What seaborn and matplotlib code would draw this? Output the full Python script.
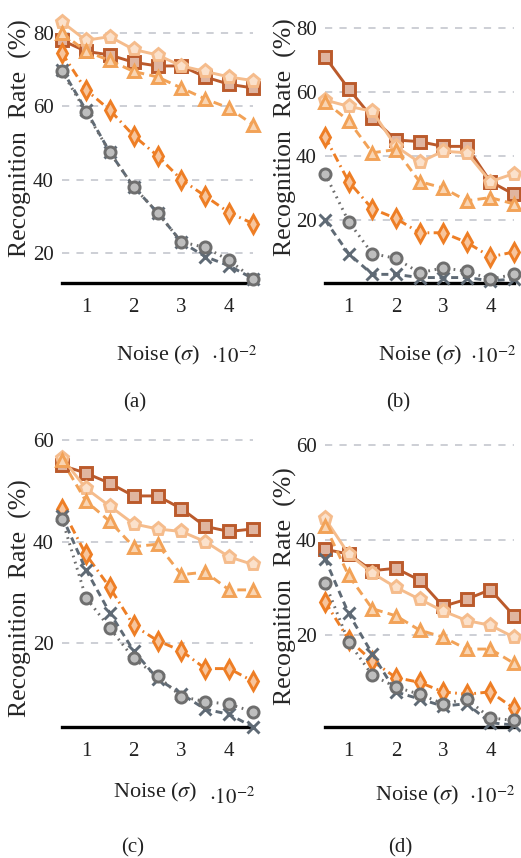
import numpy as np
import pandas as pd
import seaborn as sns
import matplotlib.pyplot as plt
from matplotlib.colors import to_rgb

# --- DATA ---
noise = [0.5, 1.0, 1.5, 2.0, 2.5, 3.0, 3.5, 4.0, 4.5]

a_square = [78, 75, 74, 72, 71, 71, 68, 66, 65]
a_pent = [83, 78, 79, 75.5, 74, 71, 69.5, 68, 67]
a_tri = [80, 75, 72.5, 69.5, 68, 65, 62, 59.5, 55]
a_diam = [74.5, 64.5, 59, 52, 46.5, 40, 35.5, 31, 28]
a_circ = [69.5, 58.5, 47.5, 38, 31, 23, 21.5, 18, 13]
a_cross = [70, 59, 47.5, 38, 31, 23, 19, 16.5, 13]

b_square = [71, 61, 52, 45, 44.5, 43, 43, 32, 28]
b_pent = [57.5, 55.5, 54, 43, 38, 41.5, 41, 32, 34.5]
b_tri = [57, 51, 41, 42, 32, 30, 26, 27, 25]
b_diam = [46, 32, 23.5, 20.5, 16, 16, 13, 8.5, 10]
b_circ = [34.5, 19.5, 9.5, 8, 3.5, 5, 4, 1.5, 3]
b_cross = [20, 9.5, 3, 3, 2, 2, 2, 1, 1.5]

c_square = [55, 53.5, 51.5, 49, 49, 46.5, 43, 42, 42.5]
c_pent = [56.5, 50.5, 47, 43.5, 42.5, 42, 40, 37, 35.5]
c_tri = [56, 48, 44, 39, 39.5, 33.5, 34, 30.5, 30.5]
c_diam = [46.5, 37.5, 31, 23.5, 20.5, 18.5, 15, 15, 12.5]
c_circ = [44.5, 29, 23, 17, 13.5, 9.5, 8.5, 8, 6.5]
c_cross = [45, 34.5, 26, 18.5, 13, 10, 7, 6, 3.5]

d_square = [38, 37, 33.5, 34, 31.5, 26, 27.5, 29.5, 24]
d_pent = [44.5, 37, 33, 30, 27.5, 25, 23, 22, 19.5]
d_tri = [43, 32.5, 25.5, 24, 21, 19.5, 17, 17, 14]
d_diam = [27, 19, 14.5, 11, 10, 8, 7.5, 8, 4.5]
d_circ = [31, 18.5, 11.5, 9, 7.5, 5.5, 6.5, 2.5, 2]
d_cross = [36, 24.5, 16, 8, 6.5, 5, 5.5, 1.5, 1]

captions = ["(a)", "(b)", "(c)", "(d)"]
y_ticks_top = [20, 40, 60, 80]
y_ticks_bottom = [20, 40, 60]
x_ticks = [1, 2, 3, 4]

# --- STYLE ---
sns.set_theme(style="white")
plt.rcParams["font.family"] = ["Liberation Serif", "DejaVu Serif"]
plt.rcParams["mathtext.fontset"] = "stix"

W, H = 521, 858

def px(x, y):
    return x / W, 1 - y / H

def tint(c, f=0.5):
    r = np.array(to_rgb(c))
    return tuple(r + (1 - r) * f)

# (name, color, marker, linestyle, size, zorder)
series = [
    ("square", "#bb5a2b", "s", "-", 8.5, 3),
    ("pent", "#f5bc8c", "p", "-", 9.5, 4),
    ("tri", "#f2a257", "^", (0, (3.0, 1.8)), 9, 5),
    ("diam", "#ee7e25", "d", (0, (3.0, 1.5, 0.6, 1.5)), 9, 6),
    ("cross", "#5f6a75", "x", (0, (2.4, 1.6)), 8, 7),
    ("circ", "#6e6e6e", "o", (0, (0.6, 1.6)), 8, 8),
]

panels = [
    dict(data={"square": a_square, "pent": a_pent, "tri": a_tri,
               "diam": a_diam, "circ": a_circ, "cross": a_cross},
         box=(62, 253, 18.3, 283), ylim=(11.8, 84), yticks=y_ticks_top,
         ylab=(-0.155, 0.548), xl=(158, 355), mult=(257, 357), cap=(135, 403)),
    dict(data={"square": b_square, "pent": b_pent, "tri": b_tri,
               "diam": b_diam, "circ": b_circ, "cross": b_cross},
         box=(325, 514, 21.6, 283), ylim=(0.3, 82), yticks=y_ticks_top,
         ylab=(-0.15, 0.559), xl=(420, 355), mult=(516, 357), cap=(398, 403)),
    dict(data={"square": c_square, "pent": c_pent, "tri": c_tri,
               "diam": c_diam, "circ": c_circ, "cross": c_cross},
         box=(62, 253, 435, 727), ylim=(3.5, 61), yticks=y_ticks_bottom,
         ylab=(-0.155, 0.44), xl=(155, 792), mult=(255, 798), cap=(133, 848)),
    dict(data={"square": d_square, "pent": d_pent, "tri": d_tri,
               "diam": d_diam, "circ": d_circ, "cross": d_cross},
         box=(325, 514, 440, 727), ylim=(0.6, 61), yticks=y_ticks_bottom,
         ylab=(-0.15, 0.49), xl=(417, 795), mult=(515, 797), cap=(400, 848)),
]

fig = plt.figure(figsize=(W / 100, H / 100), dpi=100)

for p, cap in zip(panels, captions):
    x0, x1, y0, y1 = p["box"]
    ax = fig.add_axes([x0 / W, 1 - y1 / H, (x1 - x0) / W, (y1 - y0) / H])

    for name, color, marker, ls, ms, z in series:
        face = tint(color, 0.55) if marker != "x" else color
        sns.lineplot(x=noise, y=p["data"][name], ax=ax, color=color,
                     marker=marker, linestyle=ls, linewidth=2.1,
                     markersize=ms, markerfacecolor=face,
                     markeredgecolor=color, markeredgewidth=2.1,
                     errorbar=None, clip_on=False, zorder=z)

    ax.set_xlim(0.5, 4.5)
    ax.set_ylim(*p["ylim"])
    ax.set_xticks(x_ticks)
    ax.set_yticks(p["yticks"])
    ax.set_xlabel("")
    ax.set_ylabel("Recognition  Rate  (%)", fontsize=18.5)
    ax.yaxis.set_label_coords(*p["ylab"])

    for s in ["top", "right", "left"]:
        ax.spines[s].set_visible(False)
    ax.spines["bottom"].set_color("black")
    ax.spines["bottom"].set_linewidth(2.4)
    ax.spines["bottom"].set_zorder(2)

    ax.yaxis.grid(True, linestyle=(0, (4, 4)), linewidth=1.3, color="#c9ccd2")
    ax.xaxis.grid(False)
    ax.set_axisbelow(True)

    ax.tick_params(axis="x", direction="in", length=12, width=1,
                   color="#c4c4c4", labelsize=15, pad=11, labelcolor="#222222")
    ax.tick_params(axis="y", length=0, labelsize=15, pad=6, labelcolor="#222222")

    fig.text(*px(*p["xl"]), r"Noise ($\sigma$)", fontsize=16,
             ha="center", va="center", color="#222222")
    fig.text(*px(*p["mult"]), r"$\cdot10^{-2}$", fontsize=15,
             ha="right", va="center", color="#222222")
    fig.text(*px(*p["cap"]), cap, fontsize=15, ha="center", va="center",
             color="#222222")

fig.savefig("out.png", dpi=100)
